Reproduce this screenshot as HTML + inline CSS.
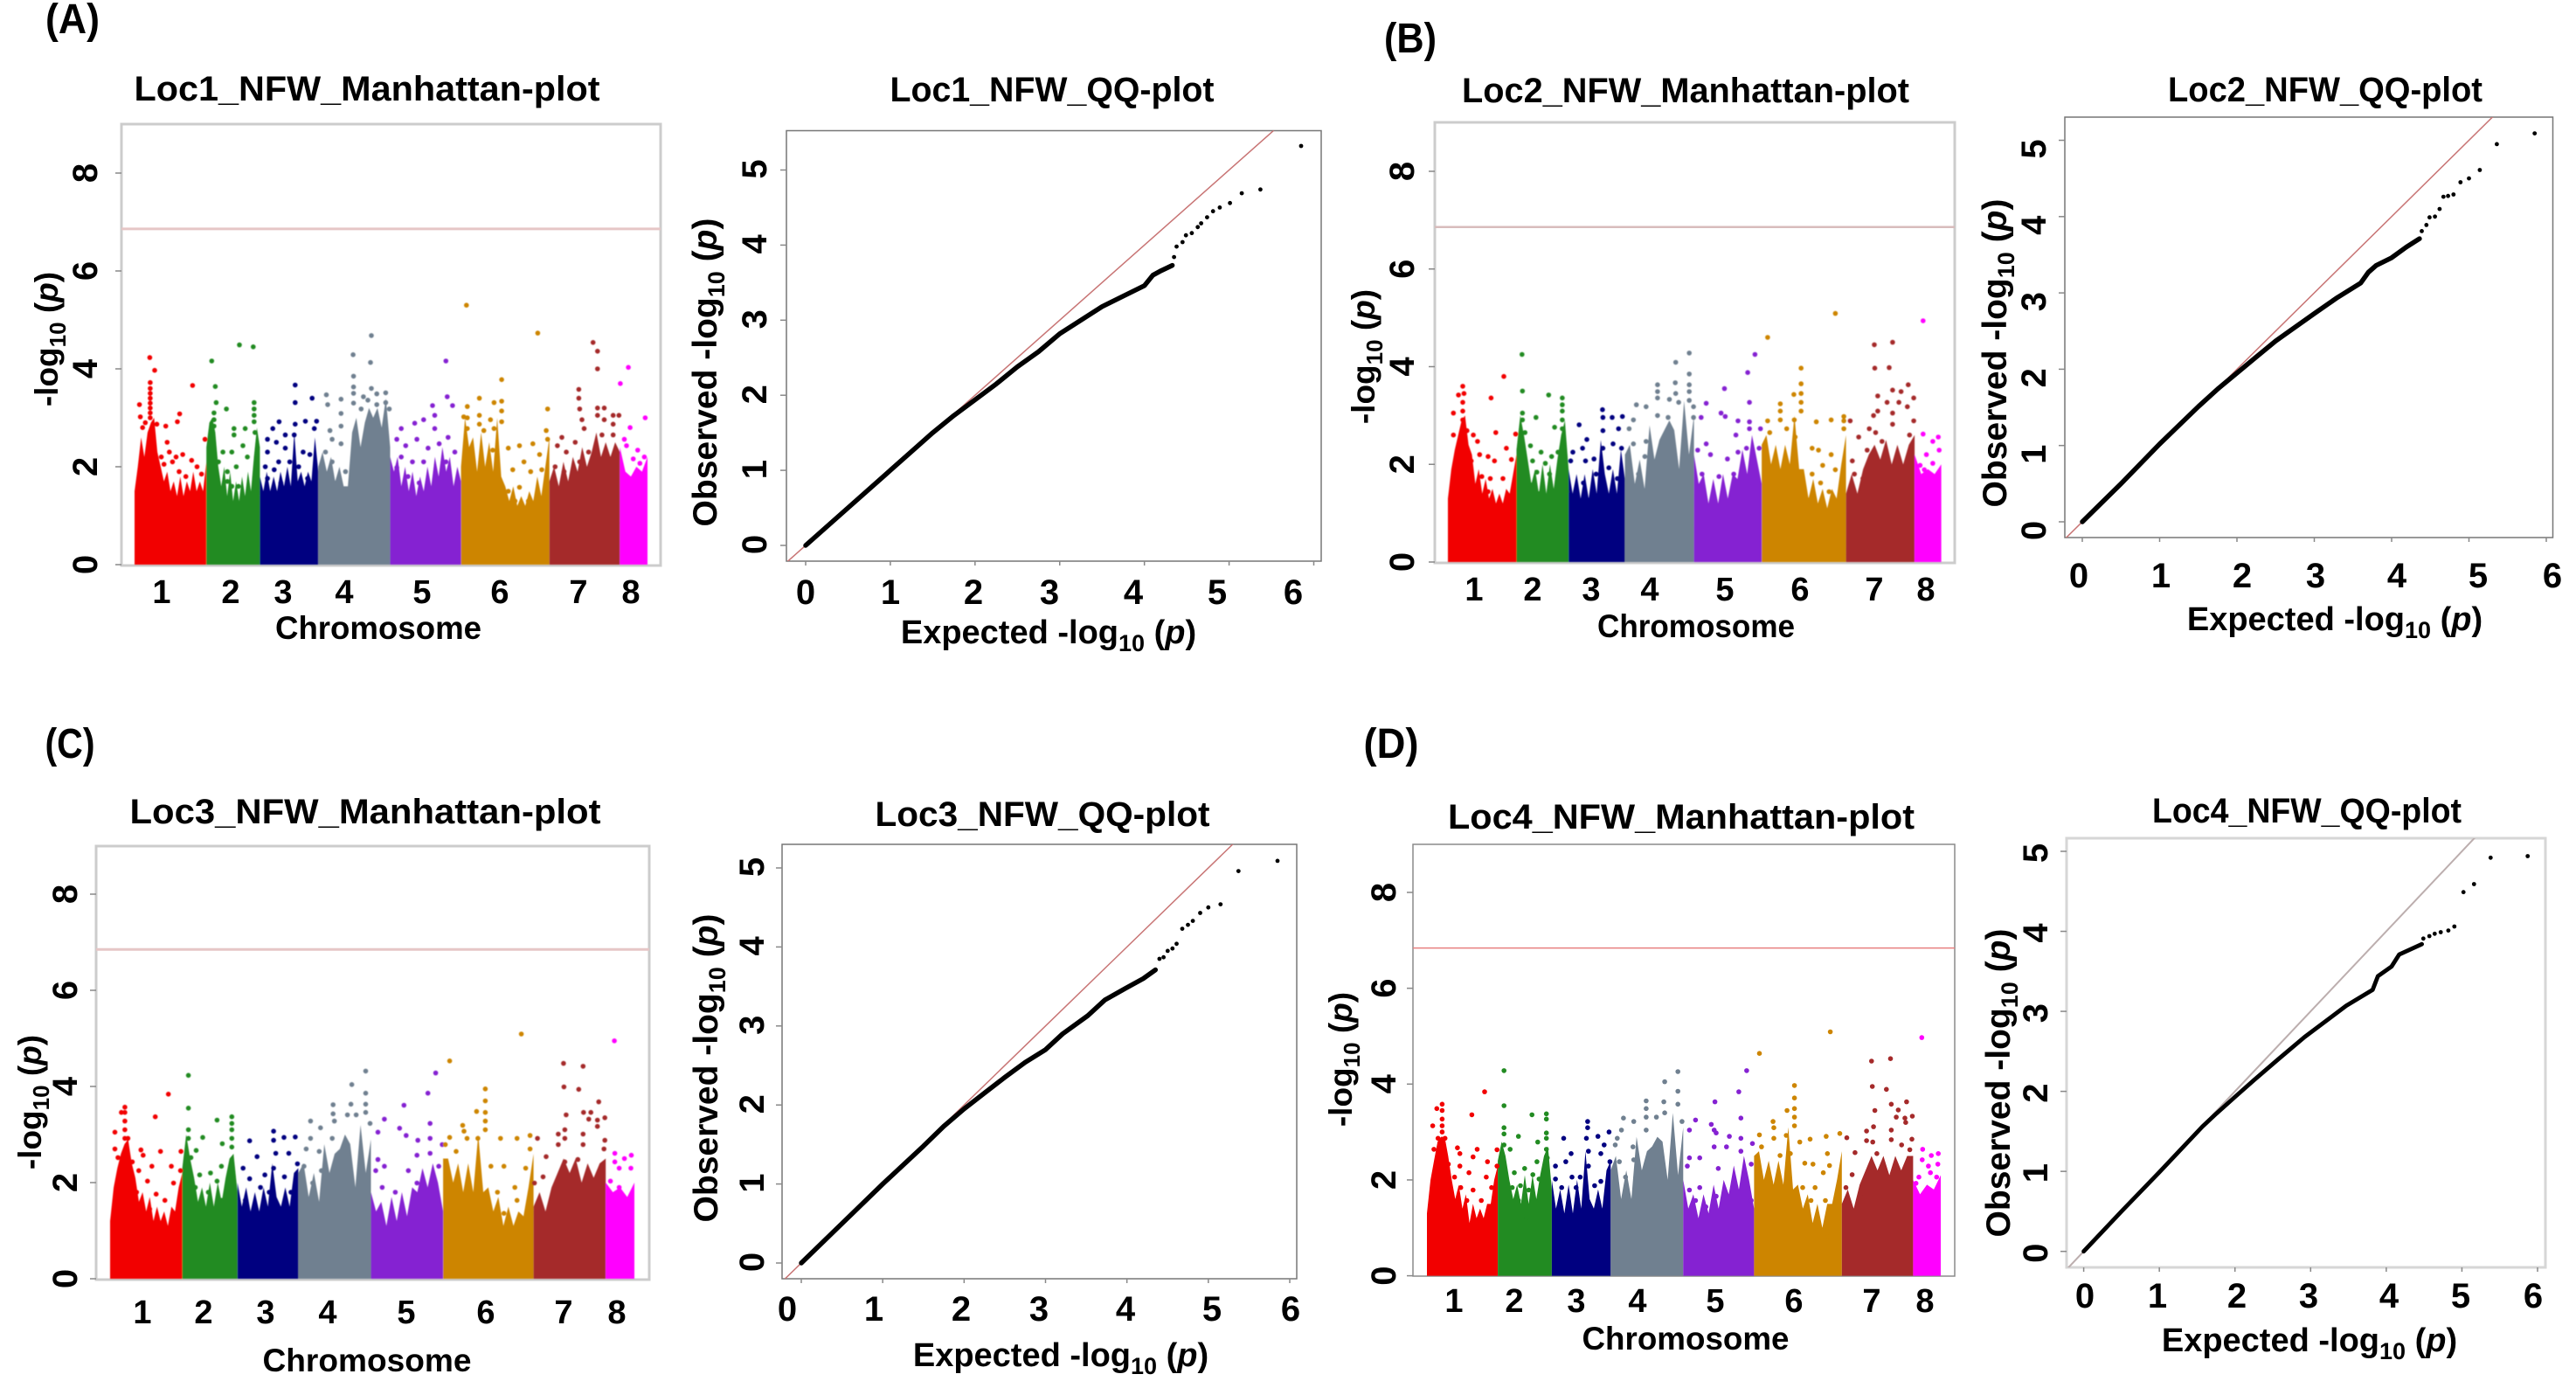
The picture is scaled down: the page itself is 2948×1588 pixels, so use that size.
<!DOCTYPE html>
<html lang="en">
<head>
<meta charset="utf-8">
<title>NFW Manhattan and QQ plots</title>
<style>
html,body{margin:0;padding:0;background:#fff;}
svg{display:block;}
text{font-family:"Liberation Sans",sans-serif;font-weight:700;fill:#000;}
</style>
</head>
<body>
<svg id="figure" xmlns="http://www.w3.org/2000/svg" width="2948" height="1588" viewBox="0 0 2948 1588">
<rect x="0" y="0" width="2948" height="1588" fill="#fff"/>
<defs><filter id="soft" x="-5%" y="-5%" width="110%" height="110%"><feGaussianBlur stdDeviation="0.6"/></filter></defs>
<g id="plots"></g>

<text x="83" y="38" font-size="48" text-anchor="middle" textLength="62" lengthAdjust="spacingAndGlyphs">(A)</text>
<text x="1614" y="60" font-size="48" text-anchor="middle" textLength="60" lengthAdjust="spacingAndGlyphs">(B)</text>
<text x="80" y="867" font-size="48" text-anchor="middle" textLength="57" lengthAdjust="spacingAndGlyphs">(C)</text>
<text x="1592" y="867" font-size="48" text-anchor="middle" textLength="63" lengthAdjust="spacingAndGlyphs">(D)</text>

<text x="420" y="115" font-size="40" text-anchor="middle" textLength="533" lengthAdjust="spacingAndGlyphs">Loc1_NFW_Manhattan-plot</text>
<text x="1204" y="116" font-size="40" text-anchor="middle" textLength="371" lengthAdjust="spacingAndGlyphs">Loc1_NFW_QQ-plot</text>
<text x="1929" y="117" font-size="40" text-anchor="middle" textLength="512" lengthAdjust="spacingAndGlyphs">Loc2_NFW_Manhattan-plot</text>
<text x="2661" y="116" font-size="40" text-anchor="middle" textLength="360" lengthAdjust="spacingAndGlyphs">Loc2_NFW_QQ-plot</text>
<text x="418" y="942" font-size="40" text-anchor="middle" textLength="539" lengthAdjust="spacingAndGlyphs">Loc3_NFW_Manhattan-plot</text>
<text x="1193" y="945" font-size="40" text-anchor="middle" textLength="383" lengthAdjust="spacingAndGlyphs">Loc3_NFW_QQ-plot</text>
<text x="1924" y="948" font-size="40" text-anchor="middle" textLength="534" lengthAdjust="spacingAndGlyphs">Loc4_NFW_Manhattan-plot</text>
<text x="2640" y="941" font-size="40" text-anchor="middle" textLength="354" lengthAdjust="spacingAndGlyphs">Loc4_NFW_QQ-plot</text>

<text x="433" y="731" font-size="37" text-anchor="middle" textLength="236" lengthAdjust="spacingAndGlyphs">Chromosome</text>
<text x="1941" y="729" font-size="37" text-anchor="middle" textLength="226" lengthAdjust="spacingAndGlyphs">Chromosome</text>
<text x="420" y="1569" font-size="37" text-anchor="middle" textLength="239" lengthAdjust="spacingAndGlyphs">Chromosome</text>
<text x="1929" y="1544" font-size="37" text-anchor="middle" textLength="237" lengthAdjust="spacingAndGlyphs">Chromosome</text>

<text x="1200" y="736" font-size="38" text-anchor="middle">Expected -log<tspan dy="9" font-size="27">10</tspan><tspan dy="-9"> (</tspan><tspan font-style="italic">p</tspan>)</text>
<text x="2672" y="721" font-size="38" text-anchor="middle">Expected -log<tspan dy="9" font-size="27">10</tspan><tspan dy="-9"> (</tspan><tspan font-style="italic">p</tspan>)</text>
<text x="1214" y="1563" font-size="38" text-anchor="middle">Expected -log<tspan dy="9" font-size="27">10</tspan><tspan dy="-9"> (</tspan><tspan font-style="italic">p</tspan>)</text>
<text x="2643" y="1546" font-size="38" text-anchor="middle">Expected -log<tspan dy="9" font-size="27">10</tspan><tspan dy="-9"> (</tspan><tspan font-style="italic">p</tspan>)</text>

<text transform="translate(66 388) rotate(-90)" font-size="37" text-anchor="middle">-log<tspan dy="9" font-size="26">10</tspan><tspan dy="-9"> (</tspan><tspan font-style="italic">p</tspan>)</text>
<text transform="translate(1573 408) rotate(-90)" font-size="37" text-anchor="middle">-log<tspan dy="9" font-size="26">10</tspan><tspan dy="-9"> (</tspan><tspan font-style="italic">p</tspan>)</text>
<text transform="translate(47 1261) rotate(-90)" font-size="37" text-anchor="middle">-log<tspan dy="9" font-size="26">10</tspan><tspan dy="-9"> (</tspan><tspan font-style="italic">p</tspan>)</text>
<text transform="translate(1547 1212) rotate(-90)" font-size="37" text-anchor="middle">-log<tspan dy="9" font-size="26">10</tspan><tspan dy="-9"> (</tspan><tspan font-style="italic">p</tspan>)</text>

<text transform="translate(820 426) rotate(-90)" font-size="39" text-anchor="middle">Observed -log<tspan dy="9" font-size="27">10</tspan><tspan dy="-9"> (</tspan><tspan font-style="italic">p</tspan>)</text>
<text transform="translate(2296 404) rotate(-90)" font-size="39" text-anchor="middle">Observed -log<tspan dy="9" font-size="27">10</tspan><tspan dy="-9"> (</tspan><tspan font-style="italic">p</tspan>)</text>
<text transform="translate(821 1222) rotate(-90)" font-size="39" text-anchor="middle">Observed -log<tspan dy="9" font-size="27">10</tspan><tspan dy="-9"> (</tspan><tspan font-style="italic">p</tspan>)</text>
<text transform="translate(2300 1239) rotate(-90)" font-size="39" text-anchor="middle">Observed -log<tspan dy="9" font-size="27">10</tspan><tspan dy="-9"> (</tspan><tspan font-style="italic">p</tspan>)</text>
</svg>

<script>
const chromosomes = ['1','2','3','4','5','6','7','8'];
const manhattanTicks = [0,2,4,6,8];
const qqXTicks = [0,1,2,3,4,5,6];
const qqYTicks = [0,1,2,3,4,5];
const significanceThreshold = [6.86,6.86,6.85,6.84];

const loc1ChromBounds = [302,463,583,714,875,1034,1232,1390,1452];
const loc2ChromBounds = [200,362,485,618,781,941,1140,1302,1365];
const loc3ChromBounds = [254,420,547,687,854,1020,1228,1394,1460];
const loc4ChromBounds = [218,390,521,664,840,1012,1225,1398,1465];

const loc1Density = [
[1.5,2.0,2.6,2.2,2.7,2.9,3.0,2.3,2.0,1.7,1.9,1.5,1.7,1.4,1.8,1.4,1.7,1.5,1.9,1.5,1.7,1.5,2.1],
[2.4,2.9,3.0,2.7,2.0,1.6,2.0,1.4,1.9,1.3,1.7,1.3,1.8,1.4,1.9,1.5,2.2,2.8,2.4],
[1.8,1.5,1.9,1.5,1.8,1.5,1.9,1.6,2.0,1.6,2.7,1.7,1.9,1.6,1.9,1.7,2.6,1.9],
[2.0,2.3,1.9,2.2,1.7,2.0,1.6,1.6,2.7,3.0,2.4,2.9,3.2,3.0,3.2,2.8,3.4,2.4],
[2.2,1.9,2.2,1.6,2.0,1.5,1.9,1.4,1.8,1.5,2.0,1.6,2.2,1.8,2.4,1.9,2.2,1.6,2.0,1.7],
[2.0,3.0,2.4,2.6,1.9,2.7,2.0,2.5,1.9,3.0,1.8,1.6,1.3,1.6,1.2,1.4,1.2,1.5,1.3,1.8,1.4,2.0,2.6],
[1.7,2.0,1.6,2.1,1.7,2.2,1.9,2.4,2.0,2.3,2.7,2.2,2.5,2.2,2.5,2.3],
[2.4,1.9,1.8,2.0,1.9,2.2]];
const loc2Density = [
[1.3,1.9,2.3,2.6,2.9,3.0,2.4,2.2,1.6,1.9,1.4,1.7,1.3,1.5,1.2,1.4,1.2,1.5,1.4,1.8,2.2],
[2.3,3.0,2.6,2.1,1.6,1.9,1.4,2.0,1.4,2.0,1.5,2.1,2.6,2.9,1.9],
[1.9,1.4,1.8,1.3,1.8,1.3,1.9,1.4,2.5,1.8,1.4,1.9,1.4,2.3,1.7],
[2.2,2.4,1.6,2.1,1.5,2.8,2.1,2.5,2.7,2.9,2.7,1.9,3.3,2.2,3.0],
[2.2,1.6,1.8,1.2,1.7,1.2,1.8,1.3,1.8,1.7,2.3,1.8,2.6,2.1,1.6],
[2.4,2.6,2.0,2.4,1.9,2.4,2.0,3.0,1.9,1.9,1.3,1.7,1.2,1.5,1.1,1.5,1.3,2.0,2.6],
[1.4,1.8,1.4,1.9,2.2,2.4,2.1,2.5,2.0,2.4,2.0,2.4,2.6],
[2.2,1.8,1.9,1.8,2.0]];
const loc3Density = [
[1.2,1.9,2.3,2.6,2.8,2.9,2.4,2.1,1.6,1.8,1.4,1.7,1.2,1.5,1.2,1.4,1.1,1.5,1.4,1.9,2.2],
[2.3,3.0,2.5,2.1,1.6,1.9,1.5,2.0,1.5,2.0,1.6,2.1,2.5,2.6,1.8],
[2.0,1.5,1.9,1.4,1.8,1.4,1.9,1.5,2.4,1.7,1.5,1.9,1.5,2.2,2.3],
[2.2,2.4,1.7,2.2,1.6,2.8,2.2,2.6,2.7,3.0,2.8,1.9,3.2,2.2,2.9],
[1.8,1.4,1.6,1.1,1.7,1.2,1.8,1.3,1.9,1.8,2.3,1.9,2.4,2.0,1.4],
[2.5,2.5,2.0,2.4,1.8,2.4,1.8,3.0,1.8,1.9,1.4,1.7,1.1,1.5,1.1,1.4,1.3,1.9,2.6],
[1.5,1.8,1.4,1.9,2.2,2.5,2.2,2.5,2.0,2.4,2.1,2.4,2.5],
[2.0,1.8,1.9,1.7,2.0]];
const loc4Density = [
[1.3,2.0,2.4,2.8,2.9,2.9,2.5,2.0,1.6,1.9,1.4,1.7,1.1,1.5,1.2,1.4,1.2,1.5,1.5,2.0,2.3],
[2.4,2.8,2.5,2.0,1.6,1.9,1.5,2.1,1.5,2.1,1.6,2.1,2.5,2.7,1.8],
[2.0,1.4,1.8,1.3,1.9,1.3,2.0,1.4,2.6,1.6,1.4,1.8,1.4,2.2,2.4],
[2.2,2.5,1.6,2.2,1.6,2.9,2.2,2.6,2.7,2.9,2.8,2.0,3.4,2.1,3.1],
[2.0,1.4,1.7,1.2,1.7,1.3,1.9,1.4,2.0,1.7,2.3,1.8,2.5,2.0,1.4],
[2.5,2.6,2.0,2.4,1.9,2.4,1.9,3.1,1.8,1.9,1.4,1.7,1.1,1.5,1.0,1.5,1.5,2.0,2.6],
[1.5,1.8,1.4,1.9,2.2,2.5,2.2,2.5,2.1,2.5,2.2,2.5,2.5],
[2.0,1.7,1.9,1.8,2.1]];

const loc1Points = [
[336,4.23],[347,3.97],[432,3.66],[403,3.08],[398,2.92],[372,2.83],[352,2.87],[313,3.27],[315,3.02],[337,3.72],[337,3.6],[337,3.5],[337,3.4],[337,3.3],[337,3.2],[337,3.1],[337,3.0],[410,2.25],[395,2.2],[430,2.13],[375,2.5],[460,2.56],[380,2.3],[387,2.1],[402,1.9],[417,1.8],[442,2.0],[452,1.85],[362,2.2],[368,2.05],[320,2.8],[326,2.9],
[475,4.16],[537,4.49],[568,4.45],[483,3.64],[485,3.31],[508,3.18],[570,3.31],[570,3.18],[570,3.05],[570,2.92],[480,3.1],[480,2.96],[480,2.83],[525,2.78],[550,2.78],[572,2.7],[525,2.65],[545,2.43],[520,2.3],[500,2.3],[490,2.1],[510,1.9],[530,2.0],[555,2.2],[515,1.3],[520,1.6],[510,1.7],[535,1.6],
[662,3.67],[662,3.31],[700,3.4],[626,2.92],[685,2.93],[710,2.93],[662,2.87],[612,2.78],[640,2.65],[660,2.65],[705,2.78],[600,2.56],[620,2.5],[640,2.38],[600,2.3],[680,2.3],[695,2.25],[625,2.1],[650,2.1],[595,2.0],[615,1.94],[670,2.0],[630,1.67],[690,1.76],[600,1.76],
[792,4.29],[833,4.68],[831,4.13],[793,3.85],[793,3.63],[793,3.5],[793,3.3],[732,3.47],[765,3.38],[735,3.27],[815,3.43],[833,3.6],[865,3.51],[845,3.49],[765,3.09],[845,3.27],[873,3.18],[865,3.31],[740,2.74],[745,2.56],[765,2.83],[730,2.3],[745,2.1],[765,2.47],[775,1.9],[750,1.67],[745,1.3],[825,3.36],[810,3.18],
[1000,4.16],[1003,3.43],[1015,3.25],[970,3.25],[930,2.89],[950,2.96],[975,3.05],[900,2.78],[975,2.78],[890,2.56],[910,2.43],[935,2.56],[960,2.38],[985,2.47],[1005,2.6],[1020,2.3],[900,2.2],[925,2.1],[950,2.1],[1000,2.1],[890,1.98],[915,1.8],[940,1.67],[1020,1.5],[930,1.3],
[1046,5.3],[1206,4.73],[1125,3.78],[1075,3.4],[1108,3.31],[1125,3.34],[1048,3.23],[1228,3.18],[1125,3.14],[1040,3.02],[1125,2.92],[1048,3.0],[1075,3.05],[1075,2.87],[1100,2.96],[1085,2.74],[1108,2.78],[1048,2.78],[1225,2.74],[1228,2.56],[1195,2.47],[1165,2.43],[1140,2.38],[1105,2.34],[1175,2.1],[1210,2.25],[1150,1.94],[1190,1.9],[1165,1.58],[1140,1.5],[1185,1.3],[1215,1.94],[1155,1.3],
[1330,4.54],[1340,4.36],[1340,4.0],[1298,3.58],[1298,3.4],[1355,3.2],[1340,3.2],[1300,3.18],[1340,3.05],[1355,2.96],[1375,3.05],[1388,3.05],[1305,2.96],[1375,2.87],[1310,2.78],[1260,2.6],[1290,2.5],[1250,2.43],[1375,2.65],[1320,2.3],[1270,2.3],[1350,2.65],[1300,2.1],[1245,2.0],[1265,1.9],[1290,1.76],
[1409,4.03],[1391,3.7],[1447,3.0],[1413,2.8],[1400,2.56],[1405,2.43],[1430,2.34],[1445,2.2],[1420,2.16],[1435,2.07]];

const loc2Points = [
[235,3.6],[332,3.8],[302,3.36],[225,3.42],[238,3.45],[235,3.27],[235,3.09],[213,3.05],[235,2.91],[213,2.6],[313,2.65],[245,2.69],[260,2.6],[270,2.47],[360,2.62],[338,2.33],[275,2.2],[295,2.16],[255,2.07],[310,2.07],[350,2.1],[280,1.75],[300,1.71],[330,1.71],[295,1.44],[345,1.27],
[375,4.25],[376,3.5],[438,3.42],[470,3.36],[470,3.22],[470,3.09],[376,3.05],[376,2.91],[408,2.96],[470,2.91],[452,2.76],[470,2.73],[382,2.65],[395,2.38],[420,2.25],[445,2.16],[400,2.07],[430,2.02],[460,2.25],[410,1.84],[440,1.8],[395,1.58],[415,1.4],[480,1.44],
[510,2.81],[565,3.12],[612,2.98],[588,2.96],[566,2.96],[603,2.73],[566,2.69],[528,2.51],[518,2.33],[495,2.25],[590,2.42],[566,2.33],[610,2.33],[545,2.11],[525,2.07],[490,2.07],[580,1.93],[550,1.8],[520,1.62],[600,1.71],[560,1.44],[530,1.27],[595,1.27],
[770,4.28],[738,4.09],[770,3.85],[695,3.63],[695,3.49],[737,3.67],[770,3.63],[770,3.49],[723,3.33],[738,3.45],[695,3.36],[770,3.31],[780,3.18],[645,3.22],[668,3.18],[695,3.0],[638,2.91],[628,2.73],[745,3.27],[780,2.96],[720,2.96],[638,2.42],[668,2.47],[625,2.16],[665,2.16],[650,1.8],[690,1.44],[655,1.62],
[925,4.25],[908,3.88],[853,3.55],[912,3.27],[810,3.25],[845,3.05],[855,2.98],[885,2.89],[912,2.87],[912,2.73],[798,2.96],[938,2.73],[880,2.6],[810,2.42],[790,2.29],[820,2.2],[905,2.33],[935,2.33],[860,2.11],[885,2.25],[800,1.8],[840,1.75],[875,1.8],[825,1.27],[850,1.09],[915,1.71],
[955,4.6],[1115,5.09],[1034,3.97],[1034,3.65],[1017,3.43],[1034,3.45],[1034,3.27],[985,3.24],[985,3.09],[1034,3.09],[955,2.89],[985,2.91],[1018,2.91],[1135,2.98],[1105,2.91],[1070,2.87],[1135,2.89],[1135,2.73],[1000,2.73],[960,2.65],[1020,2.56],[1060,2.33],[1075,2.29],[1105,2.2],[1085,1.98],[1115,1.89],[1060,1.8],[1080,1.62],[1100,1.44],[1085,0.95],[1050,1.27],
[1150,2.89],[1207,4.45],[1250,4.5],[1208,3.97],[1242,3.98],[1287,3.63],[1250,3.52],[1270,3.49],[1215,3.4],[1237,3.27],[1265,3.27],[1300,3.36],[1285,3.18],[1205,3.0],[1215,3.09],[1250,3.05],[1195,2.73],[1250,2.82],[1300,2.89],[1210,2.65],[1170,2.56],[1290,2.6],[1225,2.47],[1190,2.29],[1155,2.07],[1160,1.8],[1180,1.71],
[1322,4.94],[1358,2.56],[1322,2.62],[1345,2.47],[1360,2.29],[1330,2.2],[1315,1.98],[1345,2.02],[1325,1.89]];

const loc3Points = [
[288,3.57],[388,3.84],[358,3.37],[265,3.05],[280,3.46],[288,3.46],[288,3.28],[288,3.1],[288,2.92],[295,2.92],[325,2.68],[370,2.65],[417,2.65],[330,2.57],[395,2.34],[350,2.34],[305,2.43],[416,2.25],[320,2.25],[340,2.03],[400,1.99],[315,1.8],[360,1.76],[380,1.63],[345,1.45],[310,1.32],[265,2.7],[272,2.52],
[434,4.23],[434,3.55],[500,3.3],[534,3.37],[534,3.23],[534,3.1],[434,3.1],[434,2.92],[467,2.94],[512,2.81],[534,2.92],[452,2.67],[534,2.74],[440,2.52],[510,2.34],[485,2.2],[460,2.16],[500,2.03],[450,1.9],[480,1.8],[455,1.36],[490,1.1],[510,1.63],
[575,2.87],[630,3.07],[654,2.94],[680,2.95],[630,2.88],[592,2.54],[635,2.61],[665,2.61],[560,2.3],[610,2.16],[630,2.3],[685,2.39],[575,2.08],[655,2.12],[600,1.9],[565,1.63],[620,1.8],[670,1.8],[590,1.45],[650,1.18],
[842,4.32],[810,4.04],[842,3.86],[767,3.62],[767,3.43],[808,3.63],[842,3.63],[842,3.46],[770,3.28],[715,3.28],[738,3.14],[800,3.41],[820,3.41],[852,3.23],[715,2.92],[705,2.7],[765,2.92],[735,2.65],[700,2.34],[740,2.25],[720,1.99],[745,1.72],
[1003,4.28],[985,3.86],[930,3.61],[885,3.32],[990,3.23],[870,3.05],[920,3.13],[935,2.98],[962,2.88],[990,2.92],[1018,2.79],[990,2.61],[870,2.48],[885,2.34],[960,2.57],[1010,2.34],[865,2.25],[940,2.25],[880,1.9],[910,1.8],[960,1.99],[905,1.18],[880,1.05],[950,1.45],
[1035,4.53],[1200,5.09],[1117,3.95],[1117,3.7],[1097,3.48],[1117,3.46],[1117,3.28],[1065,3.19],[1068,3.07],[1117,3.1],[1035,2.94],[1075,2.92],[1100,2.92],[1152,2.92],[1190,2.92],[1220,2.98],[1025,2.79],[1220,2.7],[1050,2.65],[1130,2.34],[1160,2.34],[1210,2.3],[1185,1.9],[1145,1.8],[1170,1.0],[1160,1.36],[1135,1.27],[1190,1.63],
[1237,2.92],[1297,4.48],[1342,4.42],[1298,3.99],[1332,3.94],[1378,3.68],[1303,3.41],[1343,3.46],[1360,3.46],[1355,3.32],[1392,3.35],[1375,3.3],[1375,3.17],[1300,3.1],[1285,3.01],[1342,3.01],[1300,2.92],[1285,2.79],[1392,2.88],[1342,2.79],[1257,2.54],[1390,2.7],[1300,2.43],[1250,2.12],[1330,2.48],[1230,1.99],[1270,1.45],
[1414,4.95],[1453,2.57],[1415,2.61],[1437,2.5],[1415,2.43],[1452,2.3],[1425,2.3],[1405,2.03],[1425,1.9]];

const loc4Points = [
[255,3.58],[358,3.84],[327,3.36],[242,3.49],[232,3.13],[255,3.45],[255,3.27],[255,3.13],[255,3.0],[245,2.87],[262,2.87],[235,2.64],[292,2.67],[340,2.64],[298,2.55],[388,2.63],[330,2.48],[365,2.38],[270,2.33],[298,2.29],[285,2.06],[320,2.15],[362,2.06],[388,2.29],[300,1.84],[330,1.79],[315,1.57],[375,1.84],[350,1.57],[310,1.04],[335,1.08],
[405,4.28],[405,3.55],[473,3.36],[508,3.38],[508,3.27],[405,3.09],[405,2.96],[440,2.91],[487,2.79],[508,2.98],[508,2.87],[420,2.64],[405,2.73],[508,2.64],[485,2.38],[455,2.24],[430,2.15],[475,2.11],[510,2.46],[445,1.88],[425,1.84],[465,1.79],[490,2.02],[440,1.57],[460,1.21],
[550,2.87],[608,3.22],[608,3.09],[633,2.91],[660,3.0],[605,2.87],[648,2.73],[568,2.55],[610,2.6],[640,2.55],[530,2.29],[555,2.38],[662,2.38],[610,2.29],[590,2.06],[530,2.02],[570,2.06],[640,1.97],[545,1.84],[625,1.88],[580,1.84],[535,1.3],[600,1.3],[570,1.17],[650,1.3],
[827,4.26],[795,4.05],[827,3.85],[750,3.65],[750,3.49],[793,3.63],[827,3.58],[750,3.31],[775,3.31],[720,3.22],[695,3.29],[795,3.4],[837,3.22],[690,3.04],[680,2.87],[675,2.73],[718,2.69],[750,3.04],[685,2.38],[720,2.42],[700,2.06],[725,2.06],[735,1.62],[700,1.57],
[994,4.28],[975,3.84],[917,3.63],[870,3.25],[980,3.29],[908,3.16],[855,3.04],[915,3.04],[920,2.98],[952,2.91],[980,2.87],[1008,2.76],[945,2.69],[915,2.69],[980,2.6],[855,2.46],[880,2.46],[850,2.29],[925,2.24],[1005,2.33],[855,1.79],[880,1.84],[895,1.44],[920,1.66],[1005,1.57],[870,1.57],
[1025,4.64],[1197,5.09],[1110,3.97],[1110,3.71],[1092,3.45],[1110,3.49],[1110,3.31],[1058,3.22],[1060,3.09],[1110,3.13],[1025,2.94],[1060,2.87],[1090,2.93],[1123,2.79],[1148,2.85],[1187,2.91],[1220,2.97],[1030,2.69],[1075,2.51],[1100,2.55],[1190,2.55],[1135,2.35],[1155,2.33],[1195,2.3],[1180,2.15],[1130,1.84],[1160,1.84],[1150,1.57],[1165,1.04],[1190,0.81],[1185,1.57],
[1237,2.88],[1297,4.48],[1343,4.53],[1299,3.95],[1333,3.89],[1382,3.63],[1345,3.58],[1305,3.45],[1362,3.46],[1357,3.31],[1396,3.33],[1378,3.29],[1380,3.2],[1302,3.11],[1285,3.02],[1345,3.04],[1285,2.82],[1300,2.79],[1345,2.84],[1395,2.85],[1257,2.57],[1370,2.73],[1390,2.63],[1310,2.55],[1250,2.11],[1235,1.84],[1270,1.7],
[1419,4.97],[1459,2.55],[1421,2.64],[1442,2.51],[1420,2.42],[1458,2.33],[1435,2.29],[1412,2.06],[1440,2.15],[1405,1.93],[1455,2.06]];

const loc1CurveExpected = [0,0.5,1,1.5,1.75,2,2.25,2.5,2.75,3,3.25,3.5,3.75,4,4.1,4.2,4.33];
const loc1CurveObserved = [0,0.5,1,1.5,1.73,1.94,2.15,2.38,2.58,2.82,3.0,3.18,3.32,3.46,3.6,3.66,3.73];
const loc1TailExpected = [4.35,4.38,4.45,4.49,4.56,4.63,4.67,4.74,4.81,4.89,5.01,5.15,5.37,5.85];
const loc1TailObserved = [3.84,3.98,4.04,4.13,4.16,4.24,4.29,4.37,4.45,4.50,4.56,4.69,4.74,5.32];

const loc2CurveExpected = [0,0.5,1,1.5,1.75,2,2.25,2.5,3,3.3,3.6,3.7,3.8,4,4.19,4.36];
const loc2CurveObserved = [0,0.5,1.02,1.51,1.74,1.95,2.16,2.37,2.73,2.94,3.13,3.27,3.36,3.46,3.6,3.71];
const loc2TailExpected = [4.39,4.45,4.49,4.56,4.62,4.67,4.73,4.80,4.89,5.0,5.14,5.36,5.85];
const loc2TailObserved = [3.81,3.89,3.99,4.0,4.10,4.26,4.27,4.29,4.45,4.50,4.61,4.95,5.09];

const loc3CurveExpected = [0,0.5,1,1.5,1.75,2,2.25,2.5,2.75,3,3.21,3.52,3.73,3.99,4.2,4.35];
const loc3CurveObserved = [0,0.5,1,1.48,1.73,1.95,2.15,2.35,2.54,2.70,2.9,3.13,3.33,3.48,3.6,3.71];
const loc3TailExpected = [4.40,4.45,4.50,4.56,4.61,4.68,4.75,4.81,4.90,5.0,5.15,5.37,5.85];
const loc3TailObserved = [3.85,3.87,3.95,3.98,4.04,4.23,4.28,4.33,4.43,4.50,4.54,4.96,5.09];

const loc4CurveExpected = [0,0.5,1,1.25,1.57,1.75,2,2.25,2.57,2.92,3.47,3.82,3.89,4.07,4.17,4.47];
const loc4CurveObserved = [0,0.5,0.99,1.24,1.56,1.72,1.93,2.14,2.40,2.68,3.07,3.27,3.44,3.56,3.71,3.84];
const loc4TailExpected = [4.49,4.57,4.64,4.72,4.82,4.90,5.02,5.16,5.38,5.87];
const loc4TailObserved = [3.91,3.94,3.97,3.99,4.01,4.06,4.49,4.59,4.92,4.94];

const chromColors = ['#f20000','#228b22','#000080','#708090','#8522d2','#cd8500','#a52a2a','#ff00ff'];
const NS = 'http://www.w3.org/2000/svg';
const plots = document.getElementById('plots');

function svgEl(tag, parent){
  const el = document.createElementNS(NS, tag);
  parent.appendChild(el);
  return el;
}
function setAll(el, map){
  for (const k in map) el.setAttribute(k, map[k]);
}

const manhattanLayouts = [
 {id:'loc1',left:139,right:756,top:142,bottom:647,xStart:154,xEnd:741,yZero:646,yEight:198,labelCenters:[185,264,324,394,483,572,662,722],labelBase:690,yLabelBase:111,frame:'#cccccc',frameWidth:3,thr:'#e6c6c6',thrWidth:3,soft:true},
 {id:'loc2',left:1642,right:2237,top:140,bottom:644,xStart:1657,xEnd:2221.6,yZero:643,yEight:196,labelCenters:[1687,1754,1821,1888,1974,2060,2145,2204],labelBase:687,yLabelBase:1618,frame:'#cccccc',frameWidth:3,thr:'#d8bcbc',thrWidth:2.5,soft:true},
 {id:'loc3',left:110,right:743,top:968,bottom:1464,xStart:126,xEnd:726,yZero:1463,yEight:1023,labelCenters:[163,233,304,375,465,556,645,706],labelBase:1514,yLabelBase:88,frame:'#cccccc',frameWidth:3,thr:'#e6c6c6',thrWidth:3,soft:true},
 {id:'loc4',left:1617,right:2237,top:966,bottom:1460,xStart:1633,xEnd:2221,yZero:1459.6,yEight:1021,labelCenters:[1664,1733,1804,1874,1963,2053,2142,2203],labelBase:1501,yLabelBase:1597,frame:'#8a8a8a',frameWidth:1.5,thr:'#e87f7f',thrWidth:1.5,soft:false}
];
const manhattanBounds = [loc1ChromBounds,loc2ChromBounds,loc3ChromBounds,loc4ChromBounds];
const manhattanDensity = [loc1Density,loc2Density,loc3Density,loc4Density];
const manhattanPoints = [loc1Points,loc2Points,loc3Points,loc4Points];

manhattanLayouts.forEach(function(L, p){
  const bounds = manhattanBounds[p];
  const xScale = g => L.xStart + (g - bounds[0]) * (L.xEnd - L.xStart) / (bounds[bounds.length-1] - bounds[0]);
  const yScale = v => L.yZero - v * (L.yZero - L.yEight) / 8;

  const group = svgEl('g', plots);
  
  

  const frame = svgEl('rect', group);
  
  
  setAll(frame, {x:L.left,y:L.top,width:L.right-L.left,height:L.bottom-L.top,fill:'#fff',stroke:L.frame,'stroke-width':L.frameWidth});

  manhattanTicks.forEach(function(t){
    const tick = svgEl('line', group);
    
    
    setAll(tick, {x1:L.left-7,x2:L.left,y1:yScale(t),y2:yScale(t),stroke:'#888','stroke-width':1.5});
    const label = svgEl('text', group);
    
    
    setAll(label, {'font-size':40,'text-anchor':'middle',transform:'translate('+L.yLabelBase+' '+yScale(t)+') rotate(-90)'});
    label.textContent = String(t);
  });

  const marks = svgEl('g', group);
  
  
  if (L.soft) marks.setAttribute('filter', 'url(#soft)');

  chromosomes.forEach(function(name, c){
    const heights = manhattanDensity[p][c];
    const x0 = bounds[c], x1 = bounds[c+1];
    let d = 'M' + xScale(x0) + ' ' + yScale(0);
    heights.forEach(function(h, i){
      const g = x0 + (x1 - x0) * i / (heights.length - 1);
      d += 'L' + xScale(g).toFixed(1) + ' ' + yScale(h).toFixed(1);
    });
    d += 'L' + xScale(x1) + ' ' + yScale(0) + 'Z';
    const area = svgEl('path', marks);
    
    
    setAll(area, {d:d,fill:chromColors[c]});

    const label = svgEl('text', group);
    
    
    setAll(label, {x:L.labelCenters[c],y:L.labelBase,'font-size':38,'text-anchor':'middle'});
    label.textContent = name;
  });

  manhattanPoints[p].forEach(function(pt){
    let c = 0;
    while (c < chromosomes.length - 1 && pt[0] >= bounds[c+1]) c++;
    const dot = svgEl('circle', marks);
    
    
    setAll(dot, {cx:xScale(pt[0]).toFixed(1),cy:yScale(pt[1]).toFixed(1),r:2.8,fill:chromColors[c]});
  });

  const thr = svgEl('line', group);
  
  
  setAll(thr, {x1:L.left,x2:L.right,y1:yScale(significanceThreshold[p]),y2:yScale(significanceThreshold[p]),stroke:L.thr,'stroke-width':L.thrWidth});
});

const qqLayouts = [
 {id:'loc1',left:900,right:1512,top:149.5,bottom:642,xZero:922,xSix:1503.5,yZero:624,yFive:194.5,xLabelCenters:[922,1019,1114,1201,1297,1393,1480],xLabelBase:691,yLabelBase:877,yLabelShift:-1,frame:'#777',frameWidth:1.5,line:'#c87474',lineWidth:1.5,curveWidth:5.5},
 {id:'loc2',left:2363,right:2921.5,top:134,bottom:615,xZero:2383,xSix:2914,yZero:597,yFive:160.5,xLabelCenters:[2379,2473,2566,2650,2743,2836,2921],xLabelBase:672,yLabelBase:2341,yLabelShift:10,frame:'#777',frameWidth:1.5,line:'#c87474',lineWidth:1.5,curveWidth:5.5},
 {id:'loc3',left:895,right:1484,top:966,bottom:1463,xZero:917,xSix:1476,yZero:1445,yFive:993,xLabelCenters:[901,1000,1100,1189,1288,1387,1477],xLabelBase:1511,yLabelBase:874,yLabelShift:-1,frame:'#777',frameWidth:1.5,line:'#c87474',lineWidth:1.5,curveWidth:5.5},
 {id:'loc4',left:2365,right:2913,top:959,bottom:1450,xZero:2384.6,xSix:2904,yZero:1431.7,yFive:974,xLabelCenters:[2386,2469,2560,2642,2734,2816,2899],xLabelBase:1496,yLabelBase:2343,yLabelShift:2,frame:'#d6d6d6',frameWidth:3,line:'#bcaeae',lineWidth:2,curveWidth:4.8}
];
const qqCurveExpected = [loc1CurveExpected,loc2CurveExpected,loc3CurveExpected,loc4CurveExpected];
const qqCurveObserved = [loc1CurveObserved,loc2CurveObserved,loc3CurveObserved,loc4CurveObserved];
const qqTailExpected = [loc1TailExpected,loc2TailExpected,loc3TailExpected,loc4TailExpected];
const qqTailObserved = [loc1TailObserved,loc2TailObserved,loc3TailObserved,loc4TailObserved];

qqLayouts.forEach(function(L, p){
  const xScale = v => L.xZero + v * (L.xSix - L.xZero) / 6;
  const yScale = v => L.yZero - v * (L.yZero - L.yFive) / 5;

  const group = svgEl('g', plots);
  
  

  const clip = svgEl('clipPath', group);
  clip.setAttribute('id', L.id + '-qq-clip');
  const clipRect = svgEl('rect', clip);
  setAll(clipRect, {x:L.left,y:L.top,width:L.right-L.left,height:L.bottom-L.top});

  const frame = svgEl('rect', group);
  
  
  setAll(frame, {x:L.left,y:L.top,width:L.right-L.left,height:L.bottom-L.top,fill:'#fff',stroke:L.frame,'stroke-width':L.frameWidth});

  qqXTicks.forEach(function(t, i){
    const tick = svgEl('line', group);
    
    
    setAll(tick, {x1:xScale(t),x2:xScale(t),y1:L.bottom,y2:L.bottom+5,stroke:'#888','stroke-width':1.5});
    const label = svgEl('text', group);
    
    
    setAll(label, {x:L.xLabelCenters[i],y:L.xLabelBase,'font-size':40,'text-anchor':'middle'});
    label.textContent = String(t);
  });
  qqYTicks.forEach(function(t){
    const tick = svgEl('line', group);
    
    
    setAll(tick, {x1:L.left-7,x2:L.left,y1:yScale(t),y2:yScale(t),stroke:'#888','stroke-width':1.5});
    const label = svgEl('text', group);
    
    
    setAll(label, {'font-size':40,'text-anchor':'middle',transform:'translate('+L.yLabelBase+' '+(yScale(t)+L.yLabelShift)+') rotate(-90)'});
    label.textContent = String(t);
  });

  const marks = svgEl('g', group);
  
  
  marks.setAttribute('clip-path', 'url(#' + L.id + '-qq-clip)');

  const refLine = svgEl('line', marks);
  
  
  setAll(refLine, {x1:xScale(-1),y1:yScale(-1),x2:xScale(7),y2:yScale(7),stroke:L.line,'stroke-width':L.lineWidth});

  const pts = qqCurveExpected[p].map((e, i) => xScale(e).toFixed(1) + ',' + yScale(qqCurveObserved[p][i]).toFixed(1)).join(' ');
  const curve = svgEl('polyline', marks);
  
  
  setAll(curve, {points:pts,fill:'none',stroke:'#000','stroke-width':L.curveWidth,'stroke-linecap':'round','stroke-linejoin':'round'});

  qqTailExpected[p].forEach(function(e, i){
    const dot = svgEl('circle', marks);
    
    
    setAll(dot, {cx:xScale(e).toFixed(1),cy:yScale(qqTailObserved[p][i]).toFixed(1),r:2.4,fill:'#000'});
  });
});
</script>
</body>
</html>
